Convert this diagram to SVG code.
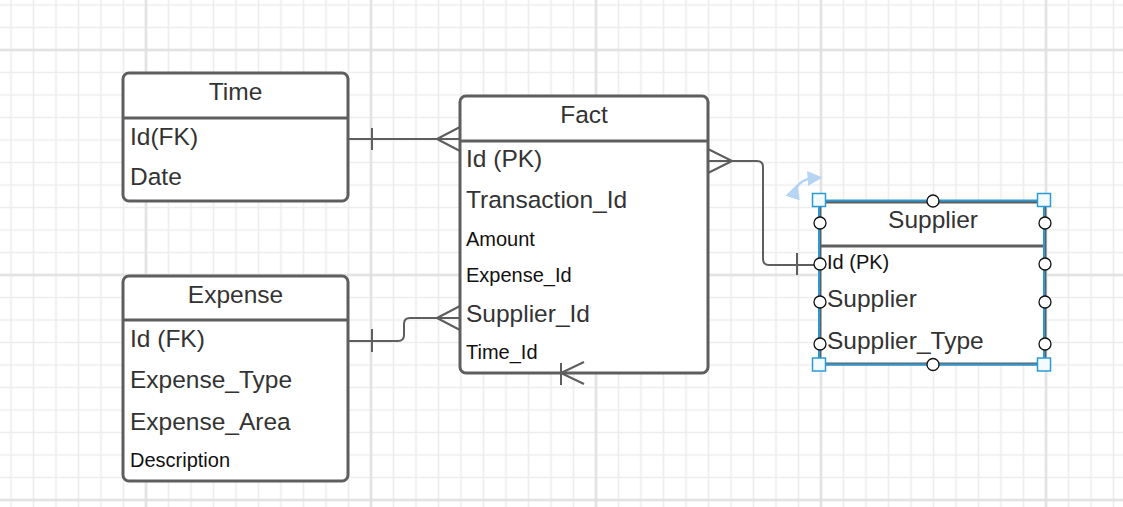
<svg xmlns="http://www.w3.org/2000/svg" width="1123" height="507" viewBox="0 0 1123 507">
<defs>
<pattern id="minor" x="-0.25" y="-6.25" width="22.5" height="22.5" patternUnits="userSpaceOnUse">
<path d="M11.25,0V22.5M0,11.25H22.5" stroke="#ededed" stroke-width="1.6" fill="none"/>
</pattern>
<pattern id="major" x="33.5" y="-62.5" width="225" height="225" patternUnits="userSpaceOnUse">
<path d="M112.5,0V225M0,112.5H225" stroke="#dedede" stroke-width="2" fill="none"/>
</pattern>
<marker id="rot" markerWidth="6" markerHeight="6" refX="3" refY="3" orient="auto">
<path d="M0,0L6,3L0,6Z" fill="#b5d5f3"/>
</marker>
</defs>
<style>
.box{fill:#fff;stroke:#5e5e5e;stroke-width:3}
.div{stroke:#5e5e5e;stroke-width:3}
.t{font-family:"Liberation Sans",Arial,sans-serif;fill:#333}
.h{font-size:24.5px;text-anchor:middle}
.f{font-size:24.5px}
.s{font-size:20px;fill:#111}
.c{fill:none;stroke:#5e5e5e;stroke-width:2}
.sel{fill:none;stroke:#2a9ad6;stroke-width:2}
.hs{fill:#f4fbff;stroke:#2a9ad6;stroke-width:1.5}
.hc{fill:#fff;stroke:#111;stroke-width:1.3}
</style>
<rect width="1123" height="507" fill="#fff"/>
<rect width="1123" height="507" fill="url(#minor)"/>
<rect width="1123" height="507" fill="url(#major)"/>

<g id="time">
<rect class="box" x="123" y="73" width="225" height="128" rx="6"/>
<line class="div" x1="123" y1="118" x2="348" y2="118"/>
<text class="t h" x="235.5" y="100">Time</text>
<text class="t f" x="130" y="145">Id(FK)</text>
<text class="t f" x="130" y="185">Date</text>
</g>

<g id="expense">
<rect class="box" x="123" y="276" width="225" height="205" rx="6"/>
<line class="div" x1="123" y1="320" x2="348" y2="320"/>
<text class="t h" x="235.5" y="303">Expense</text>
<text class="t f" x="130" y="347">Id (FK)</text>
<text class="t f" x="130" y="388">Expense_Type</text>
<text class="t f" x="130" y="430">Expense_Area</text>
<text class="t s" x="130" y="467">Description</text>
</g>

<g id="fact">
<rect class="box" x="460" y="96" width="248" height="277" rx="6"/>
<line class="div" x1="460" y1="141" x2="708" y2="141"/>
<text class="t h" x="584" y="123">Fact</text>
<text class="t f" x="466" y="167">Id (PK)</text>
<text class="t f" x="466" y="208">Transaction_Id</text>
<text class="t s" x="466" y="246">Amount</text>
<text class="t s" x="466" y="282">Expense_Id</text>
<text class="t f" x="466" y="322">Supplier_Id</text>
<text class="t s" x="466" y="359">Time_Id</text>
</g>

<g id="supplier">
<rect class="box" x="820" y="202" width="225" height="162" rx="2"/>
<line class="div" x1="820" y1="246" x2="1045" y2="246"/>
<text class="t h" x="933" y="228">Supplier</text>
<text class="t s" x="827" y="269">Id (PK)</text>
<text class="t f" x="827" y="307">Supplier</text>
<text class="t f" x="827" y="349">Supplier_Type</text>
</g>

<g id="connectors">
<path class="c" d="M348,139H460"/>
<path class="c" d="M372,128V150M437,139L460,127M437,139L460,151"/>
<path class="c" d="M348,341H398Q404,341 404,335V324Q404,318 410,318H460"/>
<path class="c" d="M372,329V352M437,318L460,306M437,318L460,330"/>
<path class="c" d="M708,161H757Q763,161 763,167V259Q763,265 769,265H820"/>
<path class="c" d="M732,161L708,149M732,161L708,173M797,253V275"/>
<path class="c" d="M561,363V385M561,373L584,362M561,373L584,384"/>
</g>

<g id="selection">
<rect class="sel" x="819" y="200.5" width="225" height="164"/>
<path d="M795,191Q799,179 815,178" fill="none" stroke="#b5d5f3" stroke-width="2.5" marker-start="url(#rot)" marker-end="url(#rot)"/>
<circle class="hc" cx="933" cy="201" r="6"/>
<circle class="hc" cx="933" cy="364.5" r="6"/>
<circle class="hc" cx="820" cy="223" r="6"/>
<circle class="hc" cx="820" cy="264" r="6"/>
<circle class="hc" cx="820" cy="302" r="6"/>
<circle class="hc" cx="820" cy="344" r="6"/>
<circle class="hc" cx="1045" cy="223" r="6"/>
<circle class="hc" cx="1045" cy="264" r="6"/>
<circle class="hc" cx="1045" cy="302" r="6"/>
<circle class="hc" cx="1045" cy="344" r="6"/>
<rect class="hs" x="812.5" y="193.5" width="13" height="13"/>
<rect class="hs" x="1037.5" y="193.5" width="13" height="13"/>
<rect class="hs" x="812.5" y="358" width="13" height="13"/>
<rect class="hs" x="1037.5" y="358" width="13" height="13"/>
</g>
</svg>
